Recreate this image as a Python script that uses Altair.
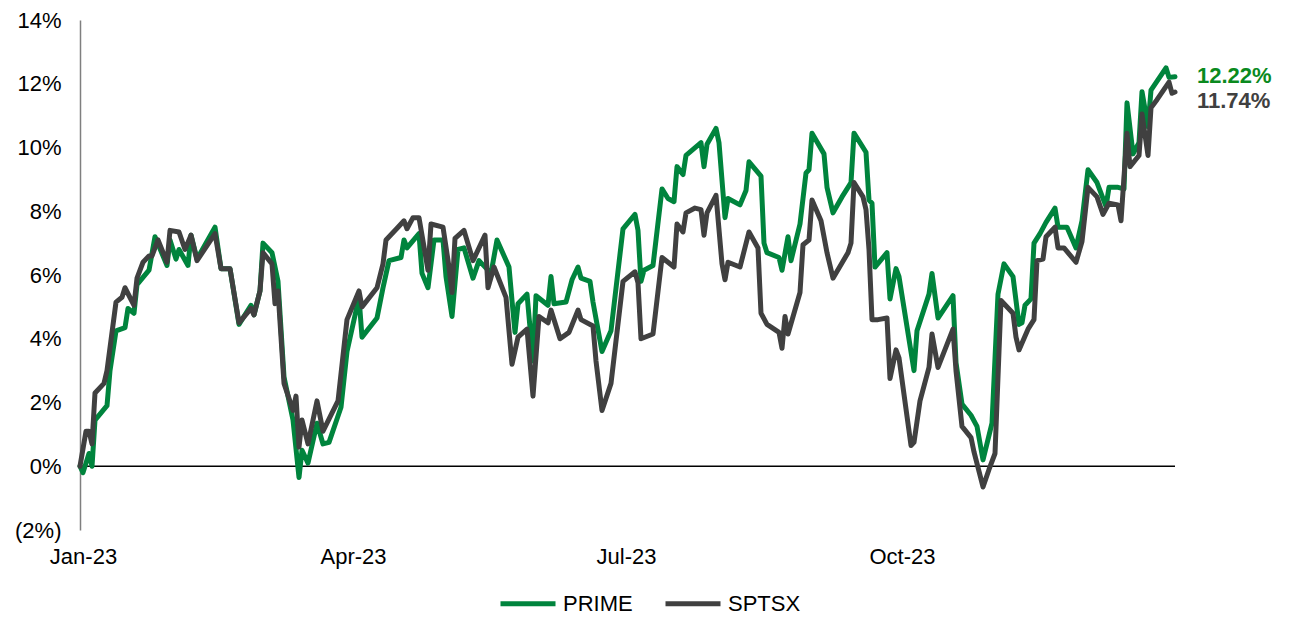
import altair as alt
import pandas as pd

# Day offsets from 2022-12-31 and cumulative returns (%)
prime_days = [0, 1, 3, 4, 5, 9, 10, 12, 15, 16, 18, 19, 23, 25, 29, 30, 32, 33, 36, 37, 39, 45, 47, 50, 53, 57, 58, 60, 61,
              64, 66, 68, 71, 73, 74, 76, 79, 81, 83, 87, 89, 93, 94, 99, 101, 103, 107, 108, 109, 113, 114, 116, 118,
              121, 122, 124, 126, 128, 131, 133, 137, 139, 143, 144, 145, 146, 149, 151, 152, 156, 157, 158, 162, 164,
              166, 167, 170, 171, 174, 177, 181, 185, 186, 187, 188, 191, 194, 196, 198, 199, 201, 202, 207, 208, 209,
              212, 213, 215, 216, 220, 222, 223, 227, 228, 229, 233, 234, 236, 237, 240, 242, 243, 244, 248, 249, 251,
              254, 257, 258, 262, 263, 264, 265, 269, 270, 272, 273, 278, 279, 283, 284, 286, 291, 292, 294, 297, 299,
              301, 304, 306, 308, 311, 313, 314, 315, 317, 318, 320, 322, 325, 326, 329, 332, 334, 336, 339, 342, 343,
              346, 348, 349, 351, 353, 354, 356, 357, 362, 363, 365]
prime_values = [0.0, -0.2, 0.4, 0.0, 1.45, 1.9, 3.0, 4.25, 4.35, 4.95, 4.8, 5.7, 6.15, 7.2, 6.3, 7.1, 6.5, 6.8, 6.3, 7.25,
                6.5, 7.5, 6.2, 6.2, 4.45, 5.05, 4.75, 5.5, 7.0,
                6.7, 5.8, 2.8, 1.45, -0.35, 0.5, 0.1, 1.35, 0.7, 0.75, 1.85, 3.6, 5.3, 4.05, 4.65, 5.6, 6.45, 6.55, 7.1,
                6.85, 7.3, 6.05, 5.6, 7.1,
                7.1, 5.95, 4.7, 6.8, 6.85, 5.9, 6.45, 6.05, 7.1, 6.25, 5.2, 4.2, 5.1, 5.4, 3.3, 5.35, 5.05, 5.95, 5.1,
                5.15, 5.85,
                6.25, 5.9, 5.8, 5.15, 3.6, 4.25, 7.45, 7.9, 7.4, 5.8, 6.15, 6.3, 8.7, 8.4, 8.3, 9.4, 9.15, 9.75, 10.15,
                9.4, 10.1,
                10.6, 10.15, 7.8, 8.4, 8.2, 8.65, 9.55, 9.1, 7.0, 6.7, 6.55, 6.15, 7.2, 6.45, 7.6, 9.2, 9.3, 10.45, 9.8,
                8.75, 7.95,
                8.45, 8.9, 10.45, 9.85, 8.35, 8.25, 6.25, 6.7, 5.25, 6.2, 5.95, 3.0, 4.25, 5.4, 6.05, 4.65, 5.35, 3.25,
                1.95, 1.6, 1.25,
                0.2, 1.35, 5.4, 6.35, 5.95, 4.45, 4.5, 5.05, 5.25, 7.0, 7.3, 7.65, 8.1, 7.5, 7.5, 6.85, 7.7, 9.3, 8.9,
                8.15, 8.75,
                8.75, 8.7, 11.4, 9.8, 10.15, 11.75, 10.65, 11.8, 12.5, 12.2, 12.22]

sptsx_days = [0, 2, 3, 4, 5, 8, 9, 12, 14, 15, 18, 19, 21, 23, 24, 26, 29, 30, 33, 35, 37, 39, 45, 47, 50, 53, 57, 58, 60,
              61, 64, 65, 66, 68, 71, 72, 73, 74, 76, 79, 81, 86, 89, 93, 94, 99, 101, 102, 106, 108, 109, 111, 113,
              116, 117, 121, 123, 124, 125, 128, 131, 135, 136, 138, 142, 144, 146, 149, 151, 153, 156, 157, 160, 163,
              166, 167, 171, 172, 174, 177, 181, 185, 186, 187, 191, 194, 198, 199, 201, 202, 205, 207, 208, 209, 212,
              214, 215, 216, 220, 223, 226, 227, 229, 233, 234, 235, 236, 240, 241, 243, 244, 247, 249, 251, 256, 257,
              258, 261, 262, 263, 264, 266, 269, 270, 272, 273, 277, 278, 280, 283, 284, 286, 291, 292, 294, 297, 298,
              301, 303, 305, 306, 307, 311, 312, 313, 316, 318, 319, 321, 322, 325, 326, 328, 332, 334, 336, 339, 341,
              343, 346, 347, 349, 350, 353, 354, 356, 357, 359, 363, 364, 365]
sptsx_values = [0.0, 1.1, 1.1, 0.7, 2.3, 2.6, 3.0, 5.15, 5.3, 5.6, 5.05, 5.9, 6.4, 6.6, 6.6, 7.1, 6.4, 7.4, 7.35, 6.8,
                7.25, 6.45, 7.3, 6.2, 6.2, 4.5, 4.95, 4.75, 5.5,
                6.7, 6.35, 5.1, 5.5, 2.6, 1.75, 2.2, 0.6, 1.45, 0.7, 2.05, 1.1, 2.05, 4.6, 5.5, 5.0, 5.6, 6.35, 7.1,
                7.5, 7.7, 7.45, 7.8, 7.8,
                6.15, 7.6, 7.5, 6.25, 5.45, 7.15, 7.4, 6.45, 7.25, 5.6, 6.25, 5.3, 3.2, 4.05, 4.3, 2.2, 4.7, 4.5, 4.9,
                4.0, 4.2,
                4.9, 4.6, 4.4, 3.3, 1.75, 2.6, 5.8, 6.1, 5.75, 4.0, 4.15, 6.55, 6.25, 7.6, 7.35, 7.95, 8.1, 8.05, 7.25,
                7.95, 8.5,
                6.35, 5.85, 6.4, 6.25, 7.35, 6.85, 4.8, 4.45, 4.2, 3.7, 4.7, 4.15, 5.45, 6.95, 7.1, 8.35, 7.7, 6.7,
                5.9, 6.7, 7.0,
                8.9, 8.45, 8.05, 6.8, 4.6, 4.6, 4.65, 2.75, 3.65, 3.4, 0.65, 0.75, 2.05, 3.1, 4.15, 3.1, 4.3, 3.0,
                1.25, 0.9, 0.45,
                -0.65, -0.1, 0.4, 2.8, 5.2, 4.8, 4.05, 3.65, 4.3, 4.6, 6.45, 6.5, 7.2, 7.5, 6.85, 6.85, 6.4, 7.05,
                8.75, 8.45, 7.9,
                8.25, 8.2, 7.7, 10.45, 9.4, 9.75, 11.05, 9.75, 11.25, 11.5, 12.05, 11.7, 11.74]

series_names = ["PRIME", "SPTSX"]
series_colors = ["#00843D", "#404040"]
label_colors = ["#0A8A1E", "#404040"]
y_ticks = [-2, 0, 2, 4, 6, 8, 10, 12, 14]

FONT = "Liberation Sans"
FS = 22
base_date = pd.Timestamp("2022-12-31")


def frame(days, values, name):
    return pd.DataFrame({
        "date": base_date + pd.to_timedelta(days, unit="D"),
        "value": values,
        "series": name,
    })


df_prime = frame(prime_days, prime_values, "PRIME")
df_sptsx = frame(sptsx_days, sptsx_values, "SPTSX")

x_enc = alt.X(
    "date:T",
    scale=alt.Scale(domain=[alt.DateTime(year=2022, month=12, date=31),
                            alt.DateTime(year=2023, month=12, date=31)], nice=False),
    axis=alt.Axis(
        values=[alt.DateTime(year=2023, month=m, date=1) for m in (1, 4, 7, 10)],
        format="%b-%y", title=None, domain=False, ticks=False, tickSize=0, grid=False,
        labelFont=FONT, labelFontSize=FS, labelColor="#000000", labelPadding=16,
        labelFlush=False, labelOverlap=False, labelAlign="center",
    ),
)
y_enc = alt.Y(
    "value:Q",
    scale=alt.Scale(domain=[-2, 14], nice=False, zero=False),
    axis=alt.Axis(
        values=y_ticks, title=None, grid=False, ticks=False, tickSize=0,
        domainColor="#7F7F7F", domainWidth=1.5,
        labelFont=FONT, labelFontSize=FS, labelColor="#000000", labelPadding=19,
        labelExpr="datum.value < 0 ? '(' + abs(datum.value) + '%)' : datum.value + '%'",
    ),
)
# Wide, flat line symbol: 5 units * sqrt(484)/2 = 55px long, entry height stays 22px
color_enc = alt.Color(
    "series:N",
    scale=alt.Scale(domain=series_names, range=series_colors),
    legend=alt.Legend(
        title=None, orient="none", direction="horizontal", legendX=418, legendY=570,
        symbolType="M-2.5,0H2.5", symbolSize=484, symbolStrokeWidth=5, symbolOffset=16.5,
        labelFont=FONT, labelFontSize=FS, labelColor="#000000", labelOffset=21.5,
        columnPadding=22,
    ),
)

zero_rule = alt.Chart(pd.DataFrame({"v": [0]})).mark_rule(color="#000000", strokeWidth=1.5).encode(
    y=alt.Y("v:Q", scale=alt.Scale(domain=[-2, 14], nice=False, zero=False))
)

line_style = dict(strokeWidth=5, strokeJoin="round", strokeCap="round")
line_prime = alt.Chart(df_prime).mark_line(**line_style).encode(x=x_enc, y=y_enc, color=color_enc)
line_sptsx = alt.Chart(df_sptsx).mark_line(**line_style).encode(x=x_enc, y=y_enc, color=color_enc)

last = pd.DataFrame({
    "date": [df_prime["date"].iloc[-1], df_sptsx["date"].iloc[-1]],
    "value": [prime_values[-1], sptsx_values[-1]],
    "series": series_names,
})
last["label"] = last["value"].map(lambda v: f"{v:.2f}%")

label_prime = alt.Chart(last[last.series == "PRIME"]).mark_text(
    align="left", baseline="middle", dx=22, dy=-1, font=FONT, fontSize=FS, fontWeight="bold",
    color=label_colors[0]).encode(x="date:T", y="value:Q", text="label:N")
label_sptsx = alt.Chart(last[last.series == "SPTSX"]).mark_text(
    align="left", baseline="middle", dx=22, dy=9, font=FONT, fontSize=FS, fontWeight="bold",
    color=label_colors[1]).encode(x="date:T", y="value:Q", text="label:N")

chart = alt.layer(zero_rule, line_prime, line_sptsx, label_prime, label_sptsx).properties(
    width=1095, height=510,
    autosize=alt.AutoSizeParams(type="none"),
    padding={"left": 72, "top": 12, "right": 110, "bottom": 86},
    background="#FFFFFF",
).configure_view(stroke=None)

chart.save("out.html", embed_options={"renderer": "svg", "actions": False})
